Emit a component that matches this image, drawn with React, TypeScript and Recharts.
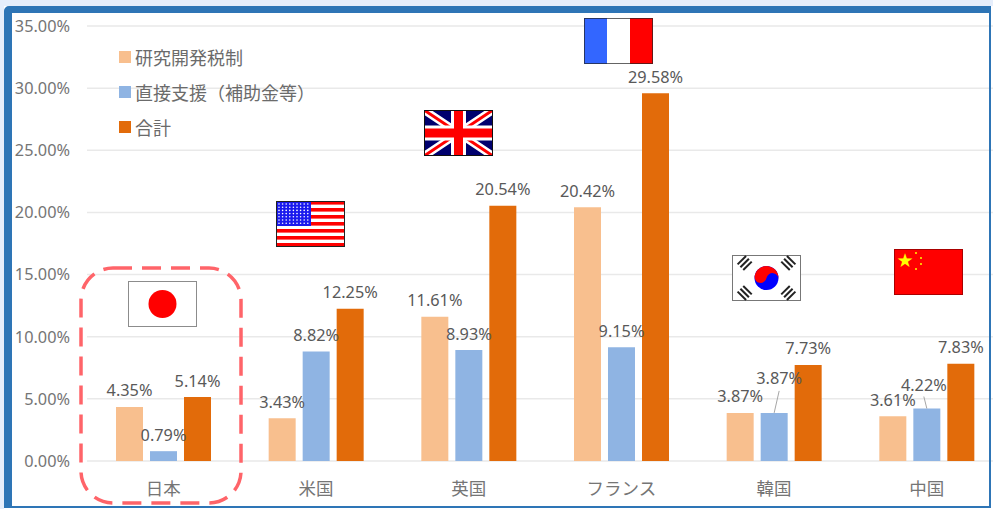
import React from 'react';
import { BarChart, Bar, XAxis, YAxis, CartesianGrid, LabelList, Legend } from 'recharts';

const countries = ['日本', '米国', '英国', 'フランス', '韓国', '中国'];
const taxCredit = [4.35, 3.43, 11.61, 20.42, 3.87, 3.61];
const directSupport = [0.79, 8.82, 8.93, 9.15, 3.87, 4.22];
const total = [5.14, 12.25, 20.54, 29.58, 7.73, 7.83];
const yTicks = [0, 5, 10, 15, 20, 25, 30, 35];

const chartData = countries.map((name, i) => ({
    name,
    taxCredit: taxCredit[i],
    directSupport: directSupport[i],
    total: total[i],
}));

const FONT = '"Noto Sans", "Noto Sans CJK JP", sans-serif';
const CJK_FONT = '"Noto Sans CJK JP", sans-serif';

// labels that were moved by hand in the original, with a leader line
const movedLabels: Record<number, { dx: number; dy: number; lx1: number; ly1: number; lx2: number }> = {
    4: { dx: 5, dy: -35, lx1: 5, ly1: -22, lx2: 0 },
    5: { dx: -3, dy: -24, lx1: -3, ly1: -12, lx2: 0 },
};

const makeLabel = (moved: typeof movedLabels = {}) => (props: any) => {
    const { x, y, width, value, index } = props;
    const cx = x + width / 2;
    const m = moved[index];
    return (
        <g>
            {m && <line x1={cx + m.lx1} y1={y + m.ly1} x2={cx + m.lx2} y2={y} stroke="#a6a6a6" strokeWidth={1} />}
            <text
                x={cx + (m ? m.dx : 0)}
                y={y + (m ? m.dy : -16.5)}
                textAnchor="middle"
                dominantBaseline="central"
                fontSize={16.3}
                fontFamily={FONT}
                fill="#595959"
            >
                {Number(value).toFixed(2)}%
            </text>
        </g>
    );
};

const LegendBox = ({ payload }: any) => (
    <div style={{ fontFamily: CJK_FONT, fontSize: 18, color: '#6b6b6b' }}>
        {(payload || []).map((p: any) => (
            <div key={p.value} style={{ display: 'flex', alignItems: 'center', height: 35 }}>
                <span style={{ width: 12, height: 12, background: p.color, marginRight: 4 }} />
                <span>{p.value}</span>
            </div>
        ))}
    </div>
);

const FlagBox = ({ x, y, children }: any) => (
    <svg viewBox="0 0 69 46" width={69} height={46} style={{ position: 'absolute', left: x, top: y }}>
        {children}
    </svg>
);

const usStripes = [0, 1, 2, 3, 4, 5, 6];
const usStars = [0, 1, 2, 3, 4, 5, 6, 7, 8];
const krBars = [[-28, -15, -45], [28, -15, 45], [-28, 15, 45], [28, 15, -45]];
const cnStars = [[22, 4], [27, 9], [27, 15], [22, 20]];

const Flags = () => (
    <>
        <FlagBox x={128} y={281}>
            <rect x={0.5} y={0.5} width={68} height={45} fill="#fff" stroke="#8c8c8c" />
            <circle cx={34.5} cy={23} r={14} fill="#ff0000" />
        </FlagBox>
        <FlagBox x={276} y={201}>
            <rect width={69} height={46} fill="#fff" />
            {usStripes.map(i => <rect key={i} y={i * 7} width={69} height={3.6} fill="#ff0000" />)}
            <rect width={35} height={25} fill="#1a1aee" />
            {usStars.map(i => [0, 1, 2, 3, 4, 5, 6].map(j => (
                <circle key={`${i}-${j}`} cx={3 + i * 3.6} cy={3 + j * 3.2} r={0.8} fill="#fff" />
            )))}
            <rect x={0.5} y={0.5} width={68} height={45} fill="none" stroke="#222" />
        </FlagBox>
        <FlagBox x={424} y={110}>
            <rect width={69} height={46} fill="#00006e" />
            <path d="M0 0L69 46M69 0L0 46" stroke="#fff" strokeWidth={8} />
            <path d="M0 0L69 46M69 0L0 46" stroke="#ff0000" strokeWidth={3} />
            <path d="M34.5 0V46M0 23H69" stroke="#fff" strokeWidth={15} />
            <path d="M34.5 0V46M0 23H69" stroke="#ff0000" strokeWidth={9} />
            <rect x={0.5} y={0.5} width={68} height={45} fill="none" stroke="#111" />
        </FlagBox>
        <FlagBox x={584} y={18}>
            <rect width={23} height={46} fill="#3366ff" />
            <rect x={23} width={23} height={46} fill="#fff" />
            <rect x={46} width={23} height={46} fill="#ff0000" />
            <rect x={0.5} y={0.5} width={68} height={45} fill="none" stroke="#222" strokeOpacity={0.7} />
        </FlagBox>
        <FlagBox x={732} y={255}>
            <rect x={0.5} y={0.5} width={68} height={45} fill="#fff" stroke="#777" />
            <g transform="translate(34.5 23)">
                <circle r={12} fill="#0000ff" />
                <path d="M-12 0A12 12 0 0 1 12 0A6 6 0 0 0 0 0A6 6 0 0 1 -12 0Z" fill="#ff0000" transform="rotate(10)" />
                {krBars.map(([bx, by, rot]) => (
                    <g key={`${bx}${by}`} transform={`translate(${bx * 0.78} ${by}) rotate(${rot})`}>
                        {[-4, 0, 4].map(o => <rect key={o} x={-6} y={o - 1} width={12} height={2} fill="#222" />)}
                    </g>
                ))}
            </g>
        </FlagBox>
        <FlagBox x={894} y={249}>
            <rect x={0.5} y={0.5} width={68} height={45} fill="#ff0000" stroke="#a00" />
            <text x={11} y={18} textAnchor="middle" fontSize={19} fill="#ffff00" fontFamily="DejaVu Sans">★</text>
            {cnStars.map(([sx, sy]) => <circle key={sy} cx={sx} cy={sy} r={1} fill="#ffff00" />)}
        </FlagBox>
    </>
);

export default function App() {
    return (
        <div style={{ position: 'fixed', left: 0, top: 0, width: 993, height: 509, overflow: 'hidden', background: '#fff' }}>
            <div style={{ position: 'absolute', left: 0, top: 0 }}>
                <BarChart
                    width={1020}
                    height={509}
                    data={chartData}
                    margin={{ top: 26, right: 17, bottom: 0, left: 0 }}
                    barSize={27}
                    barGap={7}
                >
                    <CartesianGrid vertical={false} stroke="#e9e9e9" strokeWidth={1.5} />
                    <XAxis
                        dataKey="name"
                        axisLine={false}
                        tickLine={false}
                        height={48}
                        tick={{ fontSize: 17.5, fontFamily: CJK_FONT, fill: '#757575' }}
                        tickMargin={16}
                    />
                    <YAxis
                        domain={[0, 35]}
                        ticks={yTicks}
                        width={87}
                        interval={0}
                        axisLine={false}
                        tickLine={false}
                        tickMargin={11}
                        tickFormatter={(v: number) => `${v.toFixed(2)}%`}
                        tick={{ fontSize: 16.3, fontFamily: FONT, fill: '#757575' }}
                    />
                    <Legend
                        layout="vertical"
                        align="center"
                        verticalAlign="middle"
                        itemSorter={null}
                        content={<LegendBox />}
                        wrapperStyle={{ left: 119, top: 39, width: 240, height: 105 }}
                    />
                    <Bar dataKey="taxCredit" name="研究開発税制" fill="#f8bf8e" isAnimationActive={false}>
                        <LabelList dataKey="taxCredit" content={makeLabel()} />
                    </Bar>
                    <Bar dataKey="directSupport" name="直接支援（補助金等）" fill="#8fb4e3" isAnimationActive={false}>
                        <LabelList dataKey="directSupport" content={makeLabel(movedLabels)} />
                    </Bar>
                    <Bar dataKey="total" name="合計" fill="#e26b0a" isAnimationActive={false}>
                        <LabelList dataKey="total" content={makeLabel()} />
                    </Bar>
                </BarChart>
            </div>
            <Flags />
            <svg width={993} height={509} style={{ position: 'absolute', left: 0, top: 0, pointerEvents: 'none' }}>
                <rect x={81} y={268} width={160} height={235} rx={32} fill="none" stroke="#ff6469" strokeWidth={3.5} strokeDasharray="19 10" />
            </svg>
            <div
                style={{
                    position: 'absolute',
                    left: 0,
                    top: 0,
                    width: 993,
                    height: 509,
                    boxSizing: 'border-box',
                    borderStyle: 'solid',
                    borderColor: '#e6eefb',
                    borderWidth: '6px 0 0 4px',
                    pointerEvents: 'none',
                }}
            >
                <div
                    style={{
                        width: 987,
                        height: 502,
                        boxSizing: 'border-box',
                        borderStyle: 'solid',
                        borderColor: '#2e75b6',
                        borderWidth: '7px 2px 2px 8px',
                        borderRadius: '5px 0 0 0',
                    }}
                />
            </div>
        </div>
    );
}
